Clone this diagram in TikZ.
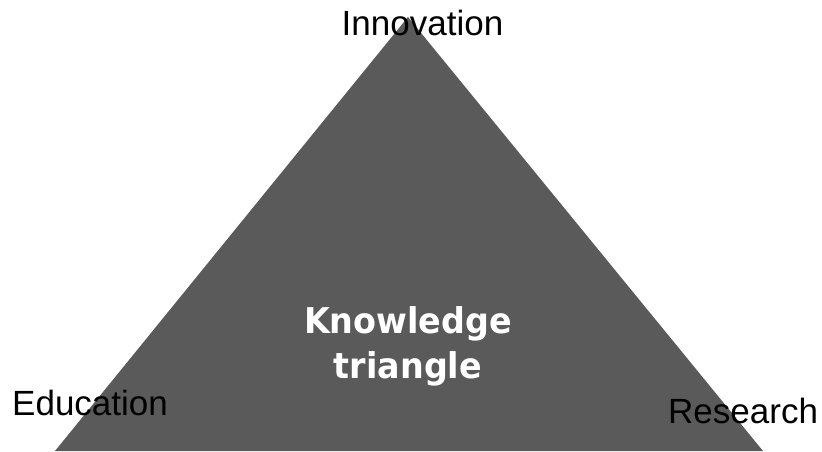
\documentclass[tikz,border=0pt]{standalone}
\usepackage{fontspec}
\setmainfont{Liberation Sans}
\newfontfamily\ktfont{DejaVu Sans}
\usetikzlibrary{positioning}

\definecolor{trigrey}{RGB}{90,90,90}

\begin{document}
\begin{tikzpicture}[
    x=1pt, y=1pt,
    % Corner labels: plain sans, black
    corner/.style={font=\fontsize{35}{40}\selectfont, inner sep=0pt, text=black},
    % Centre caption: bold, white, a little narrowed
    caption/.style={font=\ktfont\bfseries\fontsize{35.5}{45}\selectfont,
        align=center, inner sep=0pt, text=white, xscale=0.94, transform shape},
    % Triangle body
    tri/.style={fill=trigrey},
]
\useasboundingbox (0,0) rectangle (822,451);

% ============================================================
% Triangle
% ============================================================
\coordinate (apex) at (408,434);
\coordinate (baseL) at (55,0);
\coordinate (baseR) at (763,0);
\fill[tri] (baseL) -- (apex) -- (baseR) -- cycle;

% ============================================================
% Labels
% ============================================================
\node[corner, anchor=base] (innov) at (422.5,415) {Innovation};
\node[corner, anchor=base west] (edu) at (12,36) {Education};
\node[corner, anchor=base west] (res) at (668,28) {Research};

% base anchor sits on the last line
\node[caption, anchor=base] (kt) at (408,73) {Knowledge\\triangle};

\end{tikzpicture}
\end{document}
